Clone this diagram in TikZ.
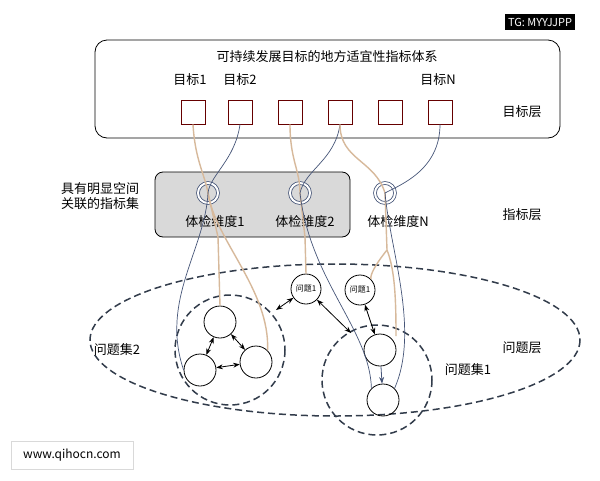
\documentclass[tikz,border=0pt]{standalone}
\usepackage{fontspec}
\setmainfont{Noto Sans CJK SC}
\usetikzlibrary{arrows.meta}
\definecolor{tancol}{RGB}{215,185,155}
\definecolor{slate}{RGB}{50,60,75}
\definecolor{blc}{RGB}{70,85,120}
\begin{document}
\begin{tikzpicture}[x=1pt,y=-1pt,
  sq/.style={draw=red!40!black,thick,minimum size=24pt,inner sep=0},
  dbl/.style={circle,draw=blc,double=white,double distance=2pt,thick,minimum size=20pt,inner sep=0},
  pc/.style={circle,draw,thick,minimum size=32pt,inner sep=0},
  qc/.style={circle,draw,thick,minimum size=30pt,inner sep=0,font=\fontsize{8}{9}\selectfont},
  tan/.style={draw=tancol,line width=1.4pt},
  bl/.style={draw=blc,line width=0.7pt},
  dsh/.style={draw=slate,dash pattern=on 7pt off 4pt,line width=1.5pt},
  arr/.style={{Stealth}-{Stealth},thick},
  lab/.style={font=\fontsize{13}{15}\selectfont}]
\useasboundingbox (0,0) rectangle (600,480);
\fill[white] (0,0) rectangle (600,480);
% top
\draw[rounded corners=12pt,thick] (95,40) rectangle (560,138);
\node[lab] (title) at (327,57) {可持续发展目标的地方适宜性指标体系};
\node[lab] (g1) at (190,80) {目标1};
\node[lab] (g2) at (240,80) {目标2};
\node[lab] (gN) at (438,80) {目标N};
\foreach \i/\x in {1/193,2/240,3/290,4/340,5/390,6/440} \node[sq] (s\i) at (\x,112) {};
\node[lab] (l1) at (522,112) {目标层};
% indicator
\draw[rounded corners=8pt,thick,fill=black!15] (155,172) rectangle (350,237);
\node[lab,align=left] (set) at (100,196) {具有明显空间\\关联的指标集};
\node[dbl] (c1) at (208,193) {};
\node[dbl] (c2) at (300,193) {};
\node[dbl] (c3) at (385,193) {};
\node[lab] (d1) at (215,222) {体检维度1};
\node[lab] (d2) at (305,222) {体检维度2};
\node[lab] (d3) at (398,222) {体检维度N};
\node[lab] (l2) at (522,215) {指标层};
% problem layer
\draw[dsh] (335,340) ellipse (245 and 76);
\draw[dsh] (230,350) circle (55);
\draw[dsh] (377,380) circle (55);
\node[qc] (p1) at (306,289) {问题1};
\node[qc] (p2) at (360,290) {问题1};
\node[pc] (a) at (220,322) {};
\node[pc] (b) at (200,370) {};
\node[pc] (c) at (256,362) {};
\node[pc] (e) at (380,350) {};
\node[pc] (f) at (383,400) {};
\node[lab] (q2) at (117,350) {问题集2};
\node[lab] (l3) at (522,348) {问题层};
\node[lab] (q1) at (468,370) {问题集1};
\coordinate (Lin) at (276,310);
\coordinate (Rin) at (351,333);
\coordinate (nb) at (387,250);
\coordinate (ne) at (396,336);
% connectors
\draw[tan] (s1.south) .. controls (195,160) and (205,175) .. (c1.center) .. controls (215,240) and (270,290) .. (c.north east);
\draw[tan] (c1.center) -- (218,237) -- (a.north);
\draw[bl] (s2.south) .. controls (235,160) and (210,175) .. (c1.center) .. controls (205,250) and (160,300) .. (b.west);
\draw[tan] (s3.south) .. controls (290,160) and (300,170) .. (c2.center) -- (305,237) -- (p1.north);
\draw[bl] (s4.south) .. controls (335,160) and (305,170) .. (c2.center) .. controls (310,280) and (370,330) .. (f.north west);
\draw[tan] (s4.south) .. controls (340,160) and (375,160) .. (c3.center) -- (nb) .. controls (375,265) and (370,275) .. (p2.north east);
\draw[tan] (nb) .. controls (395,270) and (396,300) .. (ne);
\draw[bl] (s6.south) .. controls (440,170) and (400,185) .. (c3.center) .. controls (390,250) and (420,330) .. (f.north east);
\draw[arr] (a) -- (b);
\draw[arr] (a) -- (c);
\draw[arr] (b) -- (c);
\draw[arr] (p1) -- (Lin);
\draw[arr] (p1) -- (Rin);
\draw[arr] (p2) -- (e);
\draw[-{Stealth},blc,thick] (e) -- (f);
% watermarks
\node[fill=black,text=white,font=\fontsize{11}{13}\selectfont] (wm1) at (540,22) {TG: MYYJJPP};
\node[fill=white,draw=black!15,font=\fontsize{12}{14}\selectfont,minimum width=122pt,minimum height=28pt] (wm2) at (72,455) {www.qihocn.com};
\end{tikzpicture}
\end{document}
